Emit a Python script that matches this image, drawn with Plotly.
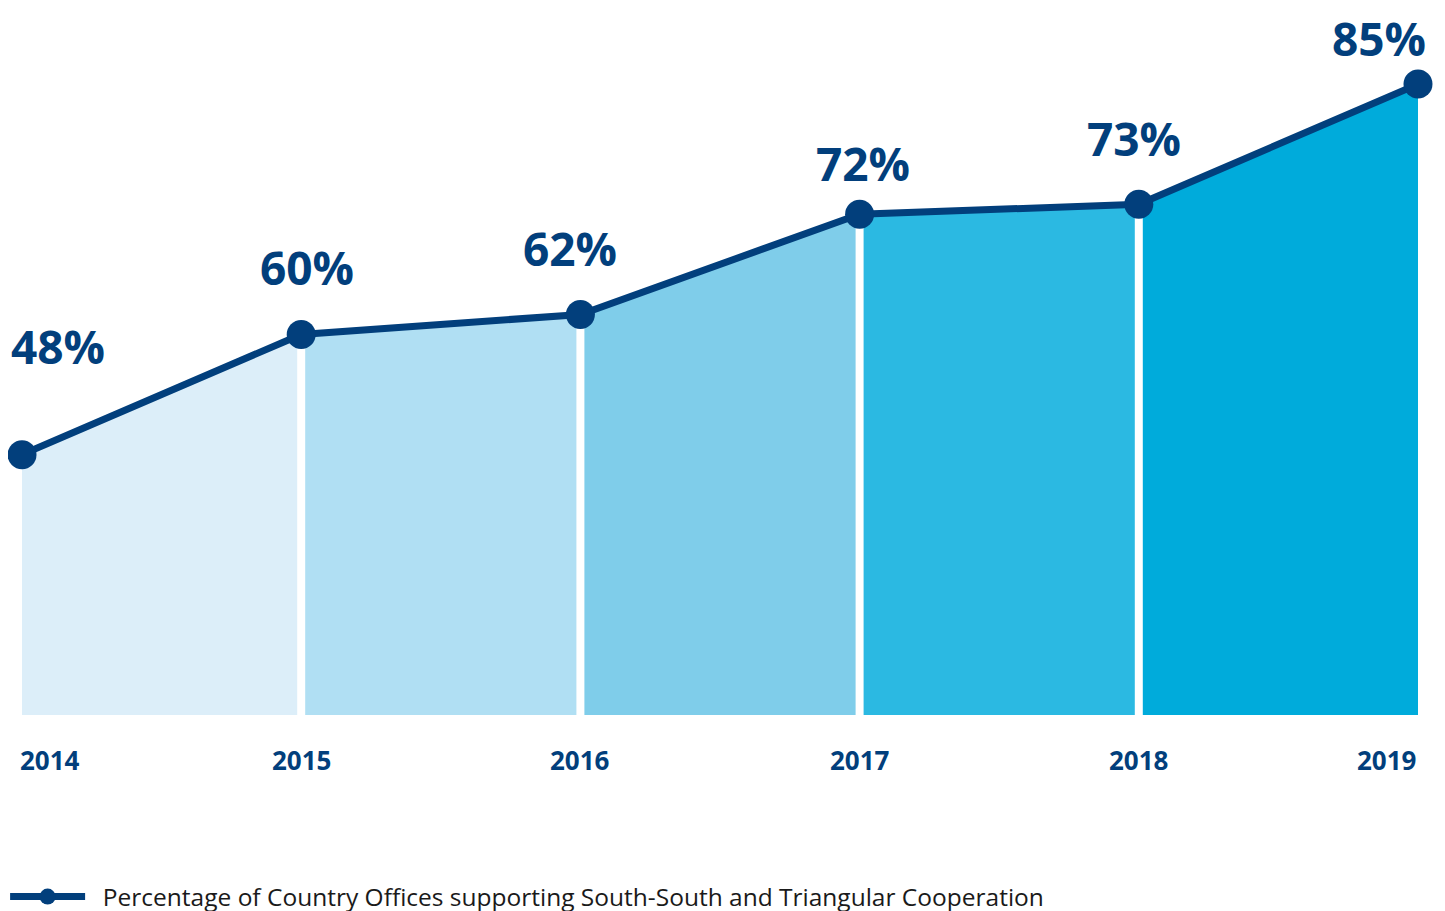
import plotly.graph_objects as go

# Data
years = [2014, 2015, 2016, 2017, 2018, 2019]
values = [48, 60, 62, 72, 73, 85]
value_labels = [f"{v}%" for v in values]
year_labels = [str(y) for y in years]
series_name = "Percentage of Country Offices supporting South-South and Triangular Cooperation"

# Style
NAVY = "#023F7C"
SEG_COLORS = ["#DCEEF9", "#B0DFF3", "#7FCDEA", "#2BB9E2", "#00ABDB"]
FONT = "Open Sans"
# label offsets (px) relative to each point: (dx, dy)
LABEL_OFFSETS = [(36, 109), (6, 67), (-10, 66), (3, 51), (-5, 66), (-39, 46)]
TICK_ANCHORS = ["left", "center", "center", "center", "center", "right"]
TICK_SHIFTS = [-4, 0, 0, 0, 0, 0]

fig = go.Figure()

# shaded segments between consecutive years
for i in range(len(years) - 1):
    fig.add_trace(go.Scatter(
        x=years[i:i + 2], y=values[i:i + 2],
        mode="lines", fill="tozeroy",
        fillcolor=SEG_COLORS[i], line=dict(width=0, color=SEG_COLORS[i]),
        showlegend=False, hoverinfo="skip",
    ))

# white gaps at interior years
gx, gy = [], []
for y, v in zip(years[1:-1], values[1:-1]):
    gx += [y, y, None]
    gy += [0, v, None]
fig.add_trace(go.Scatter(
    x=gx, y=gy, mode="lines", line=dict(color="white", width=8),
    showlegend=False, hoverinfo="skip",
))

# main line
fig.add_trace(go.Scatter(
    x=years, y=values, mode="lines+markers", name="\u00a0\u00a0" + series_name,
    line=dict(color=NAVY, width=7),
    marker=dict(color=NAVY, size=29),
    cliponaxis=False,
))

# value labels
for (yr, v, lab, (dx, dy)) in zip(years, values, value_labels, LABEL_OFFSETS):
    fig.add_annotation(
        x=yr, y=v, text=lab, showarrow=False,
        xshift=dx, yshift=dy, xanchor="center", yanchor="middle",
        font=dict(family=FONT, size=46, color=NAVY, weight="bold"),
    )

# year labels
for yr, lab, anc, sh in zip(years, year_labels, TICK_ANCHORS, TICK_SHIFTS):
    fig.add_annotation(
        x=yr, y=-0.064, xref="x", yref="paper", text=lab, showarrow=False,
        xanchor=anc, yanchor="middle", xshift=sh,
        font=dict(family=FONT, size=26, color=NAVY, weight="bold"),
    )

fig.update_layout(
    width=1445, height=911,
    margin=dict(l=14, r=35, t=0, b=204, autoexpand=False),
    paper_bgcolor="white", plot_bgcolor="white",
    xaxis=dict(range=[2014, 2019], visible=False, fixedrange=True),
    yaxis=dict(range=[22, 92.6], visible=False, fixedrange=True),
    showlegend=True,
    legend=dict(
        orientation="h", x=-0.0121, xanchor="left", y=-0.257, yanchor="middle",
        font=dict(family=FONT, size=24.5, color="#1A1A1A"),
        itemwidth=75,
    ),
)

fig.write_html("out.html")
